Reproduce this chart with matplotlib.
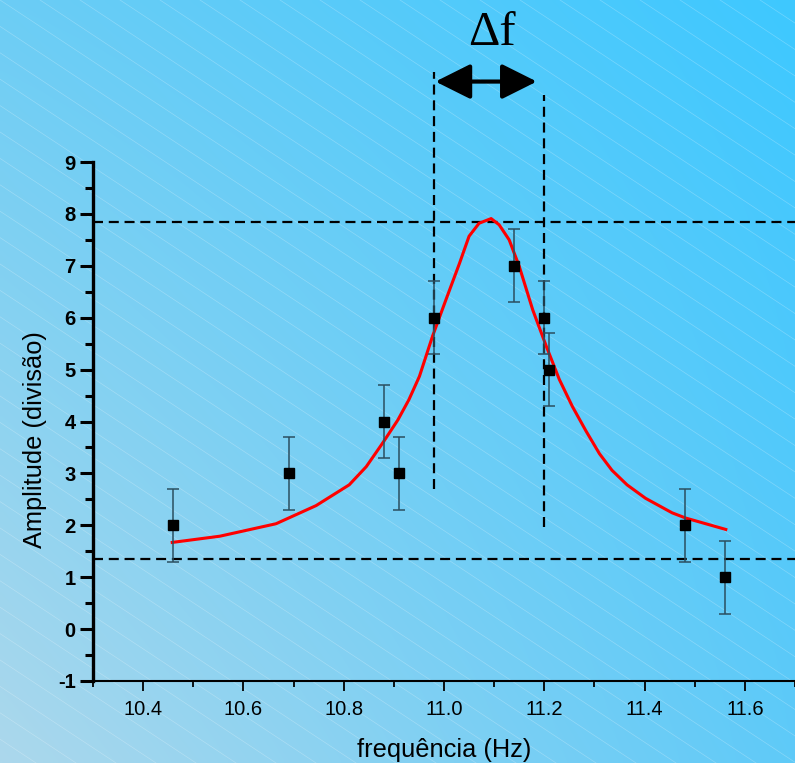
import numpy as np
import matplotlib
matplotlib.use("Agg")
import matplotlib.pyplot as plt
from matplotlib.lines import Line2D

plt.rcParams['font.family'] = ['Liberation Sans', 'DejaVu Sans']
plt.rcParams['axes.unicode_minus'] = False

# measured points
freq = [10.46, 10.69, 10.88, 10.91, 10.98, 11.14, 11.20, 11.21, 11.48, 11.56]
amp = [2, 3, 4, 3, 6, 7, 6, 5, 2, 1]
amp_err = [0.7, 0.7, 0.7, 0.7, 0.7, 0.7, 0.7, 0.7, 0.7, 0.7]

# fitted curve
fit_f = [10.458, 10.553, 10.665, 10.745, 10.811, 10.845, 10.878, 10.908, 10.930,
         10.951, 10.977, 11.004, 11.031, 11.050, 11.070, 11.094, 11.110, 11.130,
         11.150, 11.177, 11.204, 11.230, 11.256, 11.283, 11.310, 11.335, 11.365,
         11.402, 11.455, 11.482, 11.522, 11.562]
fit_a = [1.67, 1.79, 2.03, 2.38, 2.78, 3.13, 3.59, 4.03, 4.42,
         4.87, 5.64, 6.35, 7.05, 7.57, 7.82, 7.91, 7.79, 7.50,
         6.99, 6.15, 5.45, 4.81, 4.29, 3.82, 3.38, 3.06, 2.78,
         2.52, 2.24, 2.14, 2.03, 1.92]

# guide lines
amp_max = 7.85
amp_min = 1.36
f_left, f_left_span = 10.98, (2.7, 10.74)
f_right, f_right_span = 11.20, (1.97, 10.30)

W, H = 795, 763
fig = plt.figure(figsize=(W / 100, H / 100), dpi=100)

# background gradient with thin white diagonal lines
bg = fig.add_axes([0, 0, 1, 1])
bg.set_axis_off()
tl = np.array([108, 205, 245]) / 255
tr = np.array([62, 200, 255]) / 255
bl = np.array([172, 216, 236]) / 255
br = np.array([95, 202, 248]) / 255
u = np.linspace(0, 1, 200)[None, :, None]
v = np.linspace(0, 1, 200)[:, None, None]
img = (1 - v) * ((1 - u) * tl + u * tr) + v * ((1 - u) * bl + u * br)
bg.imshow(img, extent=[0, W, H, 0], aspect='auto', interpolation='bilinear')
bg.set_xlim(0, W)
bg.set_ylim(H, 0)
slope = 0.66
for x0 in np.arange(-1200, W + 40, 40):
    bg.add_line(Line2D([x0, x0 + 1600], [0, 1600 * slope], color='white',
                       lw=0.5, alpha=0.25))

ax = fig.add_axes([93 / W, 82 / H, 1 - 93 / W, 519 / H])
ax.patch.set_alpha(0)

ax.plot(fit_f, fit_a, color='#ff0000', lw=2.2, zorder=3)
ax.errorbar(freq, amp, yerr=amp_err, fmt='s', color='black', ms=7.5,
            ecolor='#2b4f60', elinewidth=1.1, capsize=4.2, capthick=1.1, zorder=4)

dash = (0, (4.5, 2.6))
ax.axhline(amp_max, color='black', lw=1.6, ls=dash, zorder=2)
ax.axhline(amp_min, color='black', lw=1.6, ls=dash, zorder=2)
ax.plot([f_left, f_left], f_left_span, color='black', lw=1.6, ls=dash,
        clip_on=False, zorder=2)
ax.plot([f_right, f_right], f_right_span, color='black', lw=1.6, ls=dash,
        clip_on=False, zorder=2)

ax.annotate('', xy=(11.185, 10.55), xytext=(10.983, 10.55), annotation_clip=False,
            arrowprops=dict(arrowstyle='<|-|>,head_length=1.6,head_width=0.8',
                            mutation_scale=13.5, lw=3, color='black',
                            shrinkA=0, shrinkB=0))
ax.text(11.096, 11.26, '\u0394f', fontsize=35, ha='center', va='baseline',
        family=['Liberation Serif', 'DejaVu Serif'], clip_on=False)

ax.set_xlim(10.3, 11.7)
ax.set_ylim(-1, 9)
ax.set_xticks(np.arange(10.4, 11.61, 0.2))
ax.set_xticks(np.arange(10.3, 11.71, 0.1), minor=True)
ax.set_yticks(np.arange(-1, 10, 1))
ax.set_yticks(np.arange(-0.5, 9, 1), minor=True)
ax.xaxis.set_major_formatter(matplotlib.ticker.FormatStrFormatter('%.1f'))

for s in ['top', 'right']:
    ax.spines[s].set_visible(False)
ax.spines['left'].set_linewidth(2.4)
ax.spines['bottom'].set_linewidth(1.5)

ax.tick_params(axis='y', which='major', length=9.5, width=2.2, labelsize=14.5, pad=3)
ax.tick_params(axis='y', which='minor', length=6, width=2.2)
ax.tick_params(axis='x', which='major', length=7, width=1.3, labelsize=14.5, pad=7)
ax.tick_params(axis='x', which='minor', length=4, width=1.3)
for lab in ax.get_yticklabels():
    lab.set_fontweight('bold')

ax.set_xlabel('frequência (Hz)', fontsize=18.3, labelpad=13)
ax.set_ylabel('Amplitude (divisão)', fontsize=18.3)
ax.yaxis.set_label_coords(-0.066, 0.465)

fig.savefig('out.png', dpi=100)
